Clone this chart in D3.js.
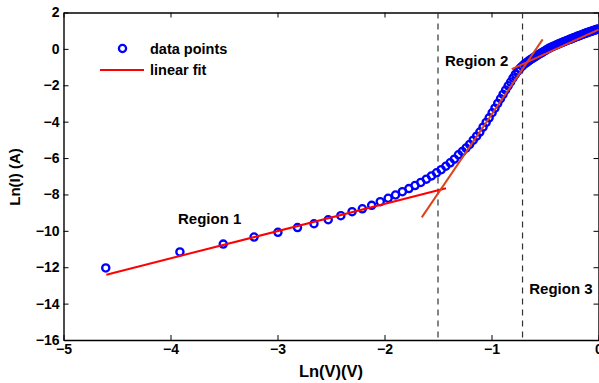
<!DOCTYPE html>
<html>
<head>
<meta charset="utf-8">
<script src="https://cdn.jsdelivr.net/npm/d3@7/dist/d3.min.js"></script>
<style>
body { margin: 0; background: #fff; }
svg { font-family: "Liberation Sans", Arial, sans-serif; font-weight: bold; }
.axis text { font-size: 14px; font-weight: bold; fill: #000; }
.axis path, .axis line { stroke: #000; }
</style>
</head>
<body>
<svg width="599" height="383"></svg>
<script>
// measured points: ln(V) and ln(I)
var lnV = [-4.605, -3.912, -3.507, -3.219, -2.996, -2.813, -2.659, -2.526, -2.408, -2.303,
  -2.207, -2.120, -2.040, -1.966, -1.897, -1.833, -1.772, -1.715, -1.661, -1.609,
  -1.561, -1.514, -1.470, -1.427, -1.386, -1.347, -1.309, -1.273, -1.238, -1.204,
  -1.171, -1.139, -1.109, -1.079, -1.050, -1.022, -0.994, -0.968, -0.942, -0.916,
  -0.892, -0.868, -0.844, -0.821, -0.799, -0.777, -0.755, -0.734, -0.713, -0.693,
  -0.673, -0.654, -0.635, -0.616, -0.598, -0.580, -0.562, -0.545, -0.528, -0.511,
  -0.494, -0.478, -0.462, -0.446, -0.431, -0.416, -0.400, -0.386, -0.371, -0.357,
  -0.342, -0.329, -0.315, -0.301, -0.288, -0.274, -0.261, -0.248, -0.236, -0.223,
  -0.211, -0.198, -0.186, -0.174, -0.163, -0.151, -0.139, -0.128, -0.117, -0.105,
  -0.094, -0.083, -0.073, -0.062, -0.051, -0.041, -0.030, -0.020, -0.010, 0];
var lnI = [-12.04, -11.16, -10.73, -10.34, -10.08, -9.82, -9.61, -9.39, -9.17, -8.95,
  -8.79, -8.60, -8.40, -8.21, -8.03, -7.85, -7.68, -7.51, -7.34, -7.16,
  -6.98, -6.81, -6.64, -6.45, -6.26, -6.06, -5.82, -5.64, -5.45, -5.25,
  -5.02, -4.80, -4.57, -4.30, -4.04, -3.79, -3.51, -3.26, -3.00, -2.74,
  -2.50, -2.26, -2.03, -1.82, -1.60, -1.40, -1.22, -1.07, -0.95, -0.84,
  -0.75, -0.67, -0.59, -0.52, -0.45, -0.38, -0.32, -0.26, -0.20, -0.14,
  -0.08, -0.02, 0.03, 0.08, 0.12, 0.16, 0.20, 0.24, 0.28, 0.31,
  0.35, 0.38, 0.41, 0.45, 0.48, 0.51, 0.54, 0.57, 0.60, 0.63,
  0.66, 0.69, 0.71, 0.74, 0.77, 0.79, 0.82, 0.84, 0.87, 0.89,
  0.92, 0.94, 0.96, 0.98, 1.00, 1.02, 1.04, 1.06, 1.08, 1.10];

// linear fits, end points
var fit1X = [-4.60, -1.425], fit1Y = [-12.41, -7.66];
var fit2X = [-1.652, -0.522], fit2Y = [-9.26, 0.52];
var fit3X = [-0.811, 0], fit3Y = [-1.11, 1.06];

var boundaries = [-1.5, -0.71];
var regionNames = ["Region 1", "Region 2", "Region 3"];
var xTicks = [-5, -4, -3, -2, -1, 0];
var yTicks = [-16, -14, -12, -10, -8, -6, -4, -2, 0, 2];

var svg = d3.select("svg"),
    margin = {top: 12.5, right: 0.5, bottom: 43, left: 63.5},
    width = +svg.attr("width") - margin.left - margin.right,
    height = +svg.attr("height") - margin.top - margin.bottom,
    g = svg.append("g").attr("transform", "translate(" + margin.left + "," + margin.top + ")");

var x = d3.scaleLinear().domain([-5, 0]).range([0, width]);
var y = d3.scaleLinear().domain([-16, 2]).range([height, 0]);
var fmt = d3.format("d");

g.append("defs").append("clipPath").attr("id", "clip")
  .append("rect").attr("width", width).attr("height", height);

// box + inward ticks on all four sides
g.append("g").attr("class", "axis")
    .attr("transform", "translate(0," + height + ")")
    .call(d3.axisBottom(x).tickValues(xTicks).tickFormat(fmt).tickSizeInner(-5).tickSizeOuter(0).tickPadding(4));
g.append("g").attr("class", "axis")
    .call(d3.axisTop(x).tickValues(xTicks).tickSizeInner(-5).tickSizeOuter(0).tickFormat(""));
g.append("g").attr("class", "axis")
    .call(d3.axisLeft(y).tickValues(yTicks).tickFormat(fmt).tickSizeInner(-5).tickSizeOuter(0).tickPadding(4));
g.append("g").attr("class", "axis")
    .attr("transform", "translate(" + width + ",0)")
    .call(d3.axisRight(y).tickValues(yTicks).tickSizeInner(-5).tickSizeOuter(0).tickFormat(""));
g.selectAll(".axis path").attr("stroke-width", 1.4);

// region boundaries
g.selectAll(".bound")
  .data(boundaries)
  .enter().append("line")
    .attr("class", "bound")
    .attr("x1", function(d) { return x(d); })
    .attr("x2", function(d) { return x(d); })
    .attr("y1", 0)
    .attr("y2", height)
    .attr("stroke", "#333")
    .attr("stroke-width", 1.2)
    .attr("stroke-dasharray", "6,5");

var plot = g.append("g").attr("clip-path", "url(#clip)");

plot.selectAll(".pt")
  .data(lnV)
  .enter().append("circle")
    .attr("class", "pt")
    .attr("cx", function(d) { return x(d); })
    .attr("cy", function(d, i) { return y(lnI[i]); })
    .attr("r", 3.6)
    .attr("fill", "none")
    .attr("stroke", "#0000ff")
    .attr("stroke-width", 2.3);

var line = d3.line()
    .x(function(d) { return x(d[0]); })
    .y(function(d) { return y(d[1]); });

function fitLine(xs, ys, color) {
  plot.append("path")
      .datum(d3.zip(xs, ys))
      .attr("fill", "none")
      .attr("stroke", color)
      .attr("stroke-width", 2)
      .attr("d", line);
}
fitLine(fit1X, fit1Y, "#ff0000");
fitLine(fit2X, fit2Y, "#d9441c");
fitLine(fit3X, fit3Y, "#e53a1a");

// region labels
var labelPos = [[-3.93, -9.63], [-1.435, -0.95], [-0.647, -13.47]];
g.selectAll(".region")
  .data(regionNames)
  .enter().append("text")
    .attr("class", "region")
    .attr("x", function(d, i) { return x(labelPos[i][0]); })
    .attr("y", function(d, i) { return y(labelPos[i][1]); })
    .attr("font-size", 15)
    .text(function(d) { return d; });

// legend
var legend = svg.append("g");
legend.append("circle").attr("cx", 122.5).attr("cy", 48.5).attr("r", 3.6)
    .attr("fill", "none").attr("stroke", "#0000ff").attr("stroke-width", 2.3);
legend.append("text").attr("x", 150).attr("y", 53.5).attr("font-size", 14.5).text("data points");
legend.append("line").attr("x1", 100).attr("x2", 144).attr("y1", 70).attr("y2", 70)
    .attr("stroke", "#ff0000").attr("stroke-width", 2);
legend.append("text").attr("x", 150).attr("y", 75).attr("font-size", 14.5).text("linear fit");

// axis titles
svg.append("text")
    .attr("x", margin.left + width / 2)
    .attr("y", 377)
    .attr("text-anchor", "middle")
    .attr("font-size", 16.5)
    .text("Ln(V)(V)");
svg.append("text")
    .attr("transform", "translate(20,177) rotate(-90)")
    .attr("text-anchor", "middle")
    .attr("font-size", 15)
    .text("Ln(I) (A)");
</script>
</body>
</html>
